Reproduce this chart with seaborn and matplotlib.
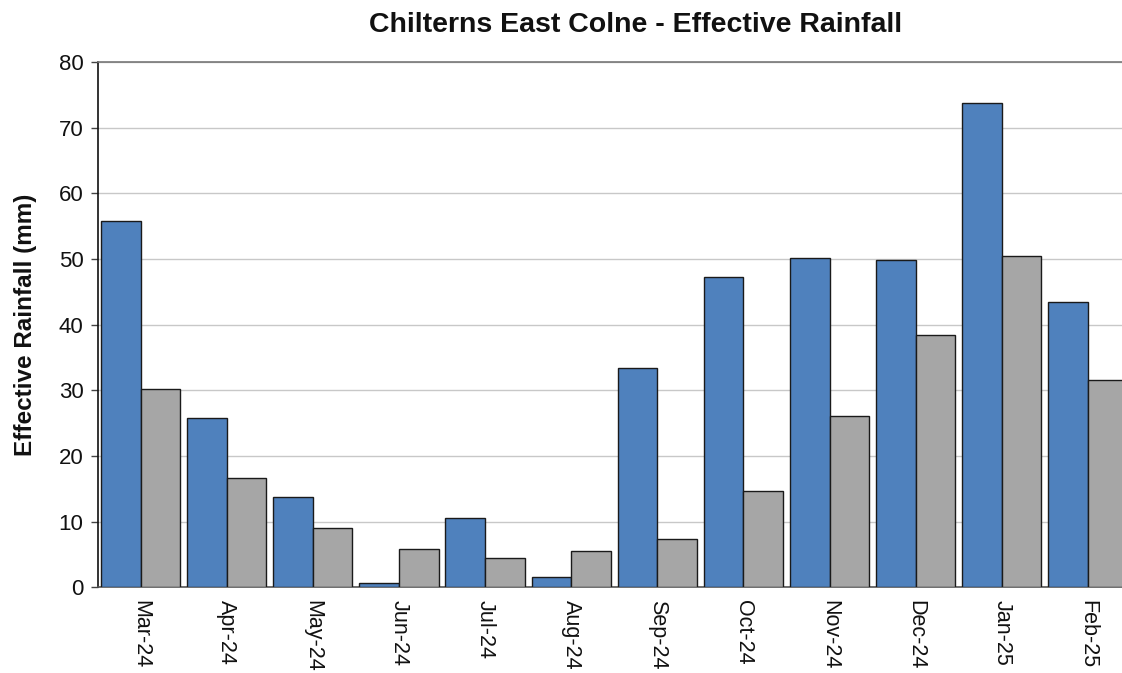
import numpy as np
import pandas as pd
import matplotlib
matplotlib.use("Agg")
import matplotlib.pyplot as plt
import seaborn as sns

months = ["Mar-24", "Apr-24", "May-24", "Jun-24", "Jul-24", "Aug-24",
          "Sep-24", "Oct-24", "Nov-24", "Dec-24", "Jan-25", "Feb-25"]
rainfall_2024_25 = [55.8, 25.8, 13.8, 0.6, 10.5, 1.6, 33.4, 47.2, 50.2, 49.8, 73.8, 43.5]
long_term_avg = [30.2, 16.6, 9.0, 5.8, 4.4, 5.5, 7.4, 14.6, 26.1, 38.4, 50.4, 31.6]
series_names = ["2024-25", "Long term average"]

df = pd.DataFrame({
    "month": months * 2,
    "series": [series_names[0]] * len(months) + [series_names[1]] * len(months),
    "value": rainfall_2024_25 + long_term_avg,
})

sns.set_theme(style="white")
plt.rcParams["font.family"] = ["Liberation Sans", "DejaVu Sans"]

fig = plt.figure(figsize=(11.22, 6.73), dpi=100)
ax = fig.add_axes([97.5 / 1122, (673 - 587.3) / 673, (1131 - 97.5) / 1122, (587.3 - 62) / 673])

sns.barplot(data=df, x="month", y="value", hue="series", order=months,
            hue_order=series_names, palette=["#4F81BD", "#A6A6A6"],
            width=0.92, gap=0, edgecolor="#1a1a1a", linewidth=1.0,
            saturation=1, legend=False, ax=ax, zorder=3)

ax.set_xlim(-0.5, len(months) - 0.5)
ax.set_ylim(0, 80)
ax.set_yticks(np.arange(0, 81, 10))
ax.yaxis.grid(True, color="#c8c8c8", linewidth=1.0, zorder=0)
ax.set_axisbelow(True)

# category boundaries carry the tick marks; labels sit at category centres
ax.set_xticks(np.arange(len(months)))
ax.set_xticklabels(months, rotation=270, fontsize=15.5, color="#111111")
ax.set_xticks(np.arange(-0.5, len(months)), minor=True)
ax.tick_params(axis="x", which="major", length=0, pad=9)
ax.tick_params(axis="x", which="minor", length=6, width=1, color="#444444", direction="out")
ax.tick_params(axis="y", which="major", length=5, width=1, color="#444444", direction="out",
               labelsize=16, pad=5, left=True, labelcolor="#111111")

ax.spines["left"].set_color("#111111")
ax.spines["left"].set_linewidth(1.2)
ax.spines["bottom"].set_color("#555555")
ax.spines["bottom"].set_linewidth(1.2)
ax.spines["top"].set_color("#777777")
ax.spines["top"].set_linewidth(1.2)
ax.spines["right"].set_visible(False)

ax.set_xlabel("")
ax.set_ylabel("Effective Rainfall (mm)", fontsize=17.5, fontweight="bold", labelpad=16, color="#111111")

fig.text(636 / 1122, 1 - 25 / 673, "Chilterns East Colne - Effective Rainfall",
         ha="center", va="center", fontsize=20.5, fontweight="bold", color="#111111")

fig.savefig("out.png", dpi=100)
